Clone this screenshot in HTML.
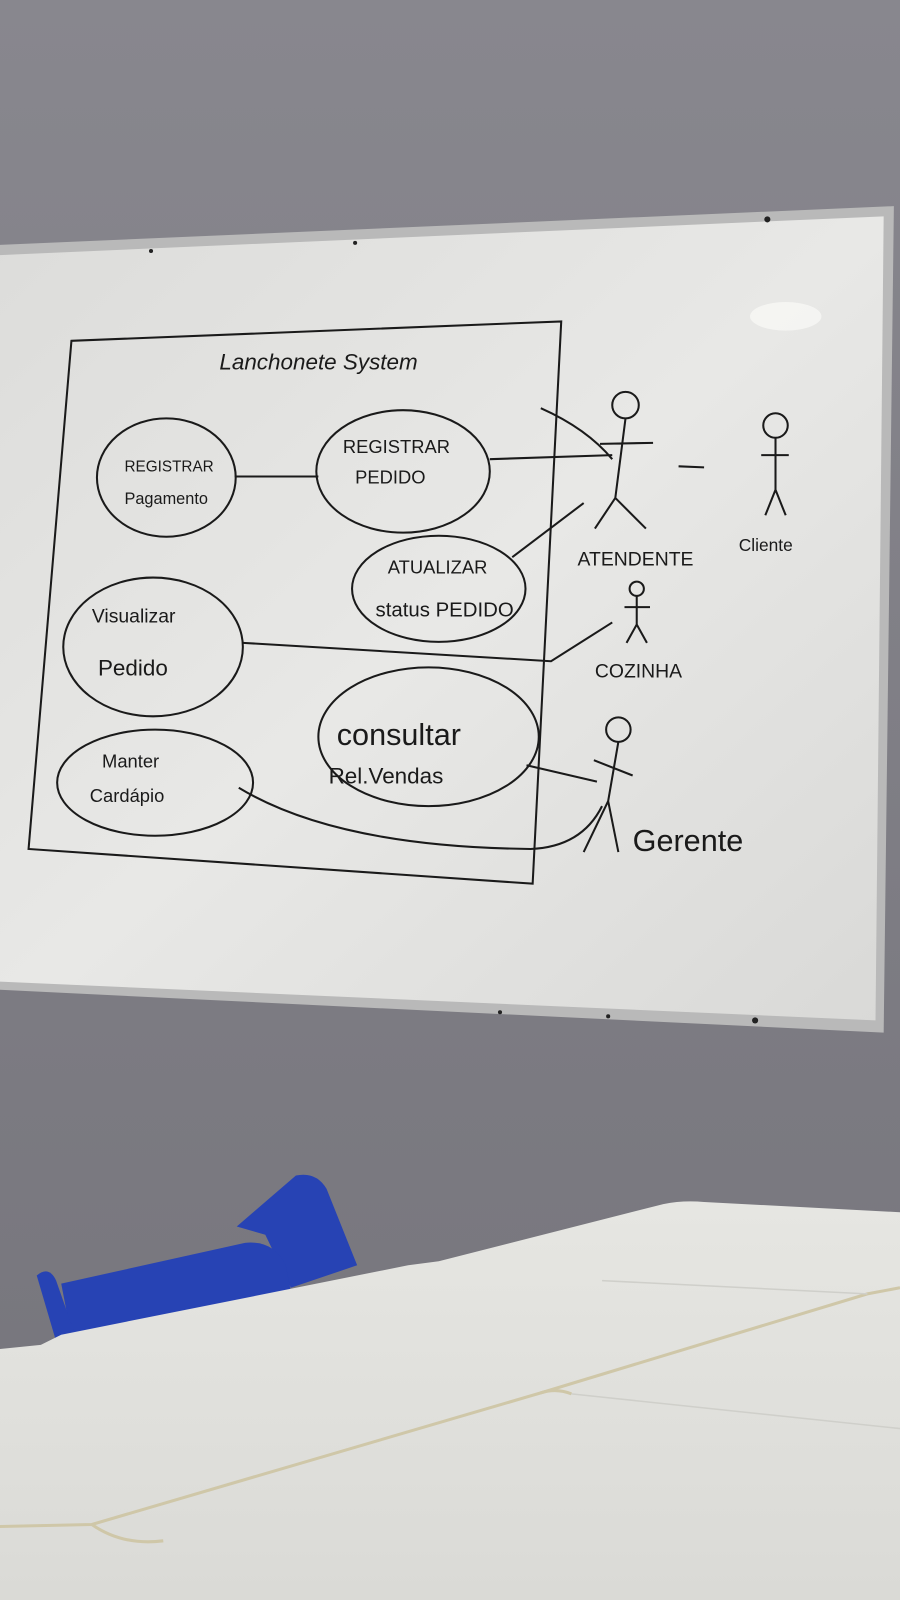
<!DOCTYPE html>
<html><head><meta charset="utf-8"><style>
html,body{margin:0;padding:0;width:900px;height:1600px;overflow:hidden;background:#7e7d85}
svg{display:block}
text{font-family:"Liberation Sans",sans-serif;fill:#1a1a1a}
</style></head><body>
<svg width="900" height="1600" viewBox="0 0 882 1568" preserveAspectRatio="none" xmlns="http://www.w3.org/2000/svg">
<defs>
<linearGradient id="wall" x1="0" y1="0" x2="0" y2="1"><stop offset="0" stop-color="#88878e"/><stop offset="1" stop-color="#75747b"/></linearGradient>
<linearGradient id="board" x1="0" y1="0" x2="1" y2="1"><stop offset="0" stop-color="#dcdcda"/><stop offset="0.5" stop-color="#e8e8e6"/><stop offset="1" stop-color="#d9d9d7"/></linearGradient>
<linearGradient id="tab" x1="0" y1="0" x2="0" y2="1"><stop offset="0" stop-color="#e6e6e2"/><stop offset="1" stop-color="#dadad6"/></linearGradient>
</defs>
<rect width="882" height="1568" fill="url(#wall)"/>
<!-- whiteboard frame -->
<polygon points="0,240 876,202 866,1012 0,970" fill="#b9b9b9"/>
<polygon points="0,250 866,212 858,1000 0,962" fill="url(#board)"/>
<ellipse cx="770" cy="310" rx="35" ry="14" fill="#f7f7f5" opacity="0.8"/>
<g fill="#222"><circle cx="148" cy="246" r="2"/><circle cx="348" cy="238" r="2"/><circle cx="752" cy="215" r="3"/><circle cx="740" cy="1000" r="3"/><circle cx="596" cy="996" r="2"/><circle cx="490" cy="992" r="2"/></g>
<!-- diagram -->
<g fill="none" stroke="#1a1a1a" stroke-width="2">
<path d="M70,334 L550,315 L522,866 L28,832 Z"/>
<ellipse cx="163" cy="468" rx="68" ry="58"/>
<ellipse cx="395" cy="462" rx="85" ry="60"/>
<ellipse cx="430" cy="577" rx="85" ry="52"/>
<ellipse cx="150" cy="634" rx="88" ry="68"/>
<ellipse cx="420" cy="722" rx="108" ry="68"/>
<ellipse cx="152" cy="767" rx="96" ry="52"/>
<path d="M230,467 L312,467"/>
<path d="M480,450 L600,446"/>
<path d="M530,400 Q575,420 600,450"/>
<path d="M502,546 L572,493"/>
<path d="M238,630 L540,648 L600,610"/>
<path d="M516,750 L585,766"/>
<path d="M234,772 Q330,830 520,832 Q570,830 590,790"/>
<path d="M665,457 L690,458"/>
<!-- Atendente -->
<circle cx="613" cy="397" r="13"/><path d="M613,410 L603,488 M583,518 L603,488 L633,518 M588,435 L640,434"/>
<!-- Cliente -->
<circle cx="760" cy="417" r="12"/><path d="M760,429 L760,480 M750,505 L760,480 L770,505 M746,446 L773,446"/>
<!-- Cozinha -->
<circle cx="624" cy="577" r="7"/><path d="M624,584 L624,612 M614,630 L624,612 L634,630 M612,595 L637,595"/>
<!-- Gerente -->
<circle cx="606" cy="715" r="12"/><path d="M606,727 L596,785 M572,835 L596,785 L606,835 M582,745 L620,760"/>
</g>
<text x="215" y="362" font-size="22" font-style="italic">Lanchonete System</text>
<text x="122" y="462" font-size="15">REGISTRAR</text>
<text x="122" y="494" font-size="16">Pagamento</text>
<text x="336" y="444" font-size="18">REGISTRAR</text>
<text x="348" y="474" font-size="18">PEDIDO</text>
<text x="380" y="562" font-size="18">ATUALIZAR</text>
<text x="368" y="604" font-size="20">status PEDIDO</text>
<text x="90" y="610" font-size="19">Visualizar</text>
<text x="96" y="662" font-size="22">Pedido</text>
<text x="330" y="730" font-size="30">consultar</text>
<text x="322" y="768" font-size="22">Rel.Vendas</text>
<text x="100" y="752" font-size="18">Manter</text>
<text x="88" y="786" font-size="18">Cardápio</text>
<text x="566" y="554" font-size="19">ATENDENTE</text>
<text x="724" y="540" font-size="17">Cliente</text>
<text x="583" y="664" font-size="19">COZINHA</text>
<text x="620" y="834" font-size="30">Gerente</text>
<!-- chair -->
<g fill="#2743b4">
<path d="M232,1202 L290,1152 Q310,1148 320,1165 L350,1240 L285,1262 L260,1210 Z"/>
<path d="M60,1258 L240,1218 Q268,1215 280,1240 L285,1265 L70,1310 Z"/>
<path d="M36,1250 Q48,1240 55,1255 L75,1312 L56,1318 Z"/>
</g>
<!-- tables -->
<path d="M430,1236 L650,1180 Q670,1176 690,1178 L882,1188 L882,1568 L0,1568 L0,1322 L40,1318 L60,1308 L400,1240 Z" fill="url(#tab)"/>
<g fill="none" stroke="#cfc7a8" stroke-width="3">
<path d="M0,1496 L90,1494 L530,1365 L850,1268 L882,1262"/>
<path d="M90,1494 Q120,1515 160,1510"/>
<path d="M530,1365 Q545,1360 560,1366"/>
</g>
<path d="M590,1255 L850,1268" stroke="#cfcfca" stroke-width="1.5" fill="none"/>
<path d="M560,1366 L882,1400" stroke="#cfcfca" stroke-width="1.5" fill="none"/>
</svg>
</body></html>
